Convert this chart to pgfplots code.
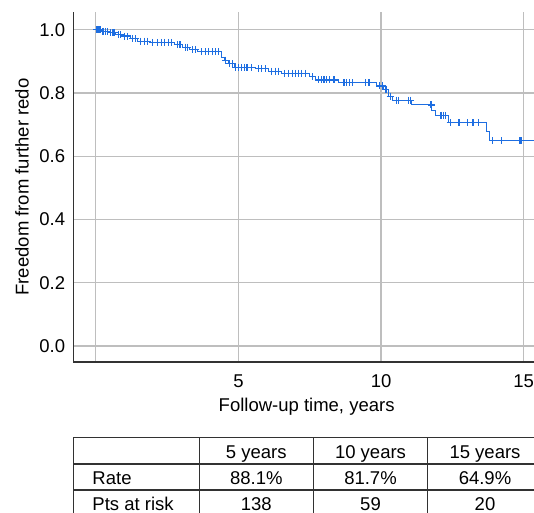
\documentclass[border=0pt]{standalone}
\usepackage{fontspec}
\setmainfont{Liberation Sans}
\usepackage{pgfplots}
\pgfplotsset{compat=1.18}

\definecolor{kmblue}{RGB}{30,110,225}
\definecolor{gridgray}{RGB}{190,190,190}
\definecolor{spine}{RGB}{50,50,50}
\newcommand{\chartfont}{\fontsize{18.5bp}{22bp}\selectfont}

\begin{document}
\begin{tikzpicture}[font=\chartfont]
  \useasboundingbox (-73.3bp,-151bp) rectangle (460.7bp,362bp);
  \begin{axis}[
      scale only axis,
      width=460.7bp, height=350bp,
      xmin=-0.79, xmax=15.36,
      ymin=-0.051, ymax=1.056,
      axis x line=bottom, axis y line=left,
      axis line style={-, draw=spine, line width=1.4bp},
      xtick={0,5,10,15}, xticklabels={,5,10,15},
      ytick={0,0.2,0.4,0.6,0.8,1.0},
      yticklabel style={/pgf/number format/fixed, /pgf/number format/fixed zerofill, /pgf/number format/precision=1},
      /pgf/number format/assume math mode=true,
      tick style={draw=none},
      tick label style={font=\chartfont},
      xticklabel style={anchor=center, yshift=-17.5bp},
      yticklabel style={anchor=east, xshift=-2.5bp},
      grid=major,
      major grid style={draw=gridgray, line width=1.3bp},
      xlabel={Follow-up time, years},
      ylabel={Freedom from further redo},
      label style={font=\chartfont},
      xlabel style={at={(axis description cs:0.5,0)}, anchor=center, yshift=-44.7bp, xshift=3bp},
      ylabel style={at={(axis description cs:-0.1114,0.5)}, anchor=center},
    ]
    % Kaplan-Meier steps (time, survival after the event)
    \addplot[const plot, draw=kmblue, line width=1bp] coordinates {
      (0,1.000) (0.20,0.995) (0.45,0.990) (0.70,0.985) (0.90,0.980)
      (1.20,0.972) (1.45,0.964) (1.90,0.960) (2.75,0.953) (3.05,0.945)
      (3.30,0.938) (3.55,0.930) (4.40,0.912) (4.50,0.904) (4.65,0.892)
      (4.85,0.881) (5.60,0.876) (6.05,0.869) (6.50,0.862) (7.50,0.851)
      (7.70,0.841) (8.50,0.832) (9.85,0.822) (10.10,0.812) (10.25,0.790)
      (10.40,0.777) (11.05,0.762) (11.78,0.745) (11.90,0.729) (12.35,0.706)
      (13.70,0.677) (13.80,0.649) (15.40,0.649)
    };
    % censored observations
    \addplot[only marks, mark=+, mark size=3.5bp, draw=kmblue, mark options={line width=1.1bp}] coordinates {
      (0.03,1.0) (0.07,1.0) (0.11,1.0) (0.16,1.0)
      (0.25,0.995) (0.33,0.995) (0.40,0.995)
      (0.52,0.99) (0.60,0.99) (0.65,0.99)
      (0.78,0.985) (0.85,0.985)
      (1.0,0.98) (1.1,0.98)
      (1.3,0.972) (1.38,0.972)
      (1.55,0.964) (1.7,0.964) (1.82,0.964)
      (2.0,0.96) (2.15,0.96) (2.3,0.96) (2.4,0.96) (2.55,0.96) (2.65,0.96)
      (2.85,0.953) (2.95,0.953)
      (3.15,0.945) (3.22,0.945)
      (3.4,0.938) (3.48,0.938)
      (3.7,0.93) (3.85,0.93) (3.95,0.93) (4.1,0.93) (4.2,0.93) (4.3,0.93)
      (4.55,0.904)
      (4.7,0.892) (4.78,0.892)
      (4.9,0.881) (5.0,0.881) (5.1,0.881) (5.2,0.881) (5.3,0.881) (5.45,0.881)
      (5.7,0.876) (5.8,0.876) (5.95,0.876)
      (6.15,0.869) (6.3,0.869) (6.4,0.869)
      (6.6,0.862) (6.75,0.862) (6.9,0.862) (7.0,0.862) (7.1,0.862) (7.2,0.862) (7.35,0.862)
      (7.6,0.851)
      (7.8,0.841) (7.9,0.841) (8.0,0.841) (8.1,0.841) (8.2,0.841) (8.35,0.841)
      (8.7,0.832) (8.8,0.832) (8.9,0.832) (9.0,0.832) (9.45,0.832) (9.55,0.832) (9.6,0.832)
      (9.95,0.822) (10.05,0.822)
      (10.17,0.812)
      (10.32,0.79)
      (10.55,0.777) (10.62,0.777) (10.95,0.777) (11.02,0.777)
      (11.75,0.762)
      (12.1,0.729) (12.18,0.729) (12.27,0.729)
      (12.42,0.706) (12.72,0.706) (12.76,0.706) (13.03,0.706) (13.22,0.706) (13.43,0.706)
      (13.92,0.649) (14.22,0.649) (14.87,0.649) (14.93,0.649)
    };
  \end{axis}

  % summary table below the plot
  \begin{scope}[draw=spine, line width=1.3bp]
    \draw (0,-75.7bp) -- (470bp,-75.7bp);
    \draw (0,-102bp) -- (470bp,-102bp);
    \draw (0,-128bp) -- (470bp,-128bp);
    \foreach \cx in {0,126,240,354.4}
      \draw (\cx bp,-75.7bp) -- (\cx bp,-160bp);
  \end{scope}
  \node[anchor=base, inner sep=0] at (183bp,-96.3bp) {5 years};
  \node[anchor=base, inner sep=0] at (297.2bp,-96.3bp) {10 years};
  \node[anchor=base, inner sep=0] at (411.7bp,-96.3bp) {15 years};
  \node[anchor=base west, inner sep=0] at (19bp,-122.3bp) {Rate};
  \node[anchor=base, inner sep=0] at (183bp,-122.3bp) {88.1\%};
  \node[anchor=base, inner sep=0] at (297.2bp,-122.3bp) {81.7\%};
  \node[anchor=base, inner sep=0] at (411.7bp,-122.3bp) {64.9\%};
  \node[anchor=base west, inner sep=0] at (19bp,-148.3bp) {Pts at risk};
  \node[anchor=base, inner sep=0] at (183bp,-148.3bp) {138};
  \node[anchor=base, inner sep=0] at (297.2bp,-148.3bp) {59};
  \node[anchor=base, inner sep=0] at (411.7bp,-148.3bp) {20};
\end{tikzpicture}
\end{document}
